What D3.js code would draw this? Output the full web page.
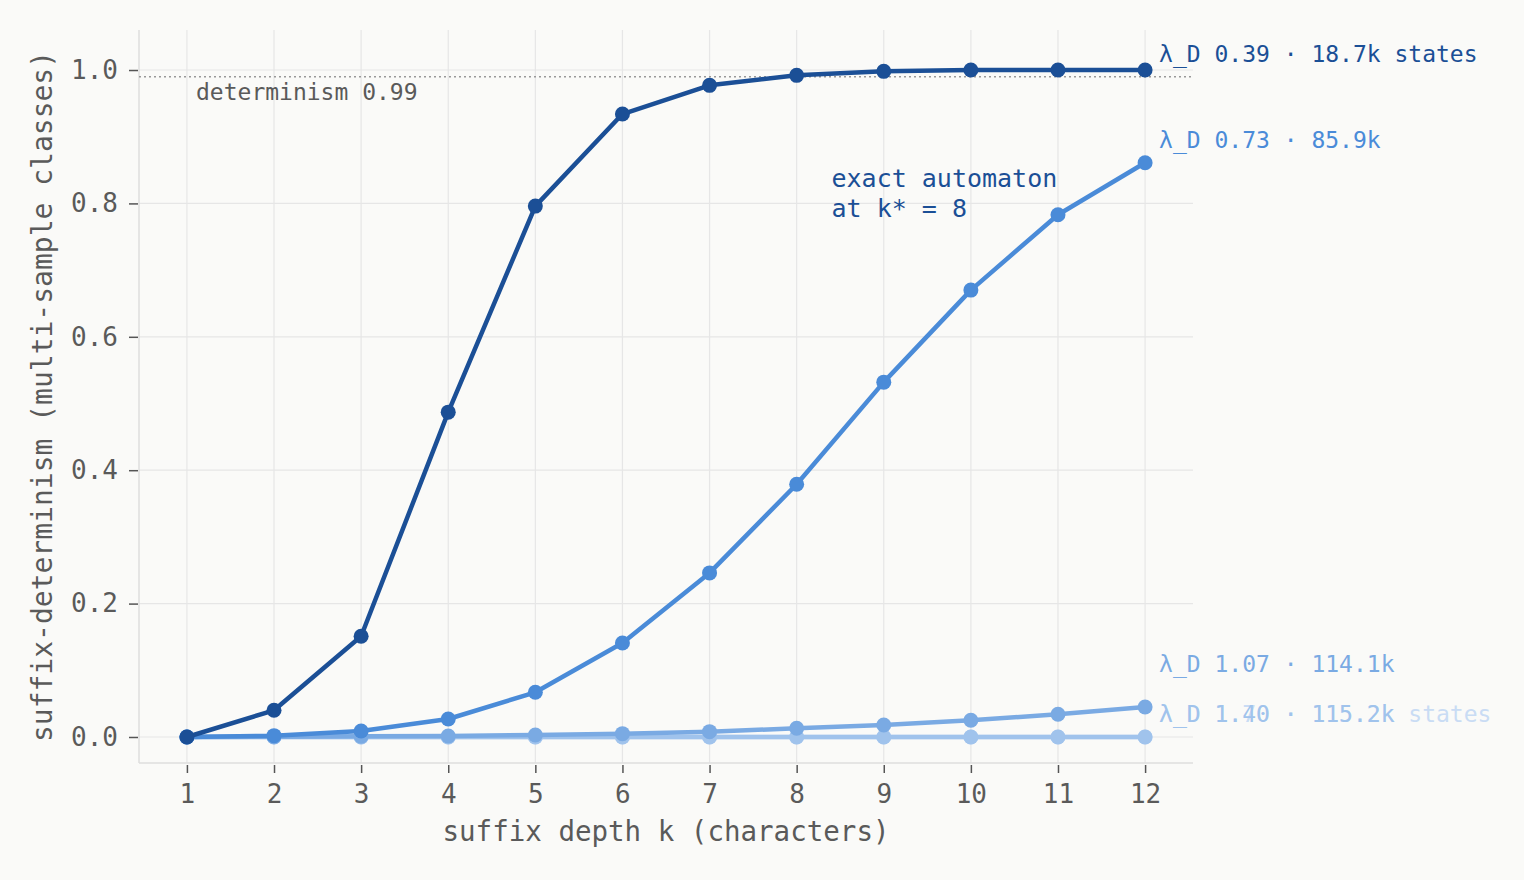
<!DOCTYPE html>
<html>
<head>
  <meta charset="utf-8">
  <title>Suffix determinism</title>
  <script src="https://cdn.jsdelivr.net/npm/d3@7"></script>
  <style>
    body { margin: 0; background: #fafaf8; }
    svg { font-family: "DejaVu Sans Mono", monospace; }
  </style>
</head>
<body>
  <svg id="chart" width="1524" height="880"></svg>
  <script>
    // suffix depth k
    var depths = [1, 2, 3, 4, 5, 6, 7, 8, 9, 10, 11, 12];

    // determinism per series
    var s039 = [0, 0.040, 0.151, 0.487, 0.796, 0.934, 0.977, 0.992, 0.998, 1.0, 1.0, 1.0];
    var s073 = [0, 0.002, 0.009, 0.027, 0.067, 0.141, 0.246, 0.379, 0.532, 0.670, 0.783, 0.861];
    var s107 = [0, 0.0005, 0.001, 0.0015, 0.003, 0.005, 0.008, 0.013, 0.018, 0.025, 0.034, 0.045];
    var s140 = [0, 0, 0, 0, 0, 0, 0, 0, 0, 0, 0, 0];
    var s170 = [0, 0, 0, 0, 0, 0, 0, 0, 0, 0, 0, 0];

    var seriesLabels = ["λ_D 0.39 · 18.7k states", "λ_D 0.73 · 85.9k",
                        "λ_D 1.07 · 114.1k", "λ_D 1.40 · 115.2k",
                        "λ_D 1.70 · 115.2k states"];
    var seriesColors = ["#1b4f96", "#4a8bd8", "#7aaae3", "#a0c3ec", "#c9dcf4"];
    var labelShift = [-15, -22, -42, -22, -22];

    var yTicks = [0, 0.2, 0.4, 0.6, 0.8, 1.0];
    var threshold = 0.99;

    var series = [s039, s073, s107, s140, s170].map(function(vals, i) {
      return { name: seriesLabels[i], color: seriesColors[i], dy: labelShift[i],
               points: vals.map(function(v, j) { return { k: depths[j], v: v }; }) };
    });

    var margin = { top: 30, right: 331, bottom: 117, left: 139 };
    var svg = d3.select("#chart");
    var W = +svg.attr("width"), H = +svg.attr("height");
    var x0 = margin.left, x1 = W - margin.right;
    var y0 = H - margin.bottom, y1 = margin.top;

    var x = d3.scaleLinear().domain([0.45, 12.55]).range([x0, x1]);
    var y = d3.scaleLinear().domain([-0.039, 1.06]).range([y0, y1]);

    // grid
    svg.append("g").selectAll("line").data(depths).enter().append("line")
      .attr("x1", d => x(d)).attr("x2", d => x(d))
      .attr("y1", y1).attr("y2", y0)
      .attr("stroke", "#e6e6e6").attr("stroke-width", 1.2);
    svg.append("g").selectAll("line").data(yTicks).enter().append("line")
      .attr("x1", x0).attr("x2", x1)
      .attr("y1", d => y(d)).attr("y2", d => y(d))
      .attr("stroke", "#e6e6e6").attr("stroke-width", 1.2);

    // spines
    svg.append("line").attr("x1", x0).attr("x2", x0).attr("y1", y1).attr("y2", y0)
      .attr("stroke", "#dedede").attr("stroke-width", 1.5);
    svg.append("line").attr("x1", x0).attr("x2", x1).attr("y1", y0).attr("y2", y0)
      .attr("stroke", "#dedede").attr("stroke-width", 1.5);

    // axes
    var xAxis = svg.append("g").attr("transform", "translate(0," + (y0 + 2) + ")")
      .call(d3.axisBottom(x).tickValues(depths).tickSize(8).tickPadding(12).tickFormat(d3.format("d")));
    var yAxis = svg.append("g").attr("transform", "translate(" + (x0 - 1) + ",0)")
      .call(d3.axisLeft(y).tickValues(yTicks).tickSize(9).tickPadding(11).tickFormat(d3.format(".1f")));
    [xAxis, yAxis].forEach(function(a) {
      a.select(".domain").remove();
      a.selectAll(".tick line").attr("stroke", "#555").attr("stroke-width", 1.5);
      a.selectAll(".tick text").attr("fill", "#5a5a5a")
        .style("font-family", "DejaVu Sans Mono").style("font-size", "26px");
    });

    // axis titles
    svg.append("text").attr("x", (x0 + x1) / 2).attr("y", 841)
      .attr("text-anchor", "middle").attr("fill", "#5a5a5a").style("font-size", "27.5px")
      .text("suffix depth k (characters)");
    svg.append("text").attr("transform", "translate(52," + ((y0 + y1) / 2) + ") rotate(-90)")
      .attr("text-anchor", "middle").attr("fill", "#5a5a5a").style("font-size", "28px")
      .text("suffix-determinism (multi-sample classes)");

    // threshold line
    svg.append("line").attr("x1", x0).attr("x2", x1)
      .attr("y1", y(threshold)).attr("y2", y(threshold))
      .attr("stroke", "#999").attr("stroke-width", 1.5).attr("stroke-dasharray", "2,3");
    svg.append("text").attr("x", x0 + 57).attr("y", y(threshold) + 23)
      .attr("fill", "#5a5a5a").style("font-size", "23px").text("determinism " + threshold);

    // series, lightest first so the dark one sits on top
    var line = d3.line().x(d => x(d.k)).y(d => y(d.v));
    var ordered = series.slice().reverse();

    var groups = svg.selectAll("g.series").data(ordered).enter().append("g").attr("class", "series");
    groups.append("path")
      .attr("d", d => line(d.points))
      .attr("fill", "none").attr("stroke", d => d.color).attr("stroke-width", 4.5)
      .attr("stroke-linejoin", "round");
    groups.selectAll("circle").data(d => d.points.map(p => ({ p: p, c: d.color }))).enter()
      .append("circle")
      .attr("cx", d => x(d.p.k)).attr("cy", d => y(d.p.v)).attr("r", 7.5)
      .attr("fill", d => d.c);

    // end labels
    svg.selectAll("text.lab").data(ordered).enter().append("text").attr("class", "lab")
      .attr("x", x(12) + 14)
      .attr("y", d => y(d.points[d.points.length - 1].v) + d.dy + 7)
      .attr("fill", d => d.color).style("font-size", "23px")
      .text(d => d.name);

    // annotation
    var ann = svg.append("text").attr("x", x(8.4)).attr("y", y(0.825))
      .attr("fill", "#1b4f96").style("font-size", "25px");
    ann.append("tspan").attr("x", x(8.4)).text("exact automaton");
    ann.append("tspan").attr("x", x(8.4)).attr("dy", 30).text("at k* = 8");
  </script>
</body>
</html>
